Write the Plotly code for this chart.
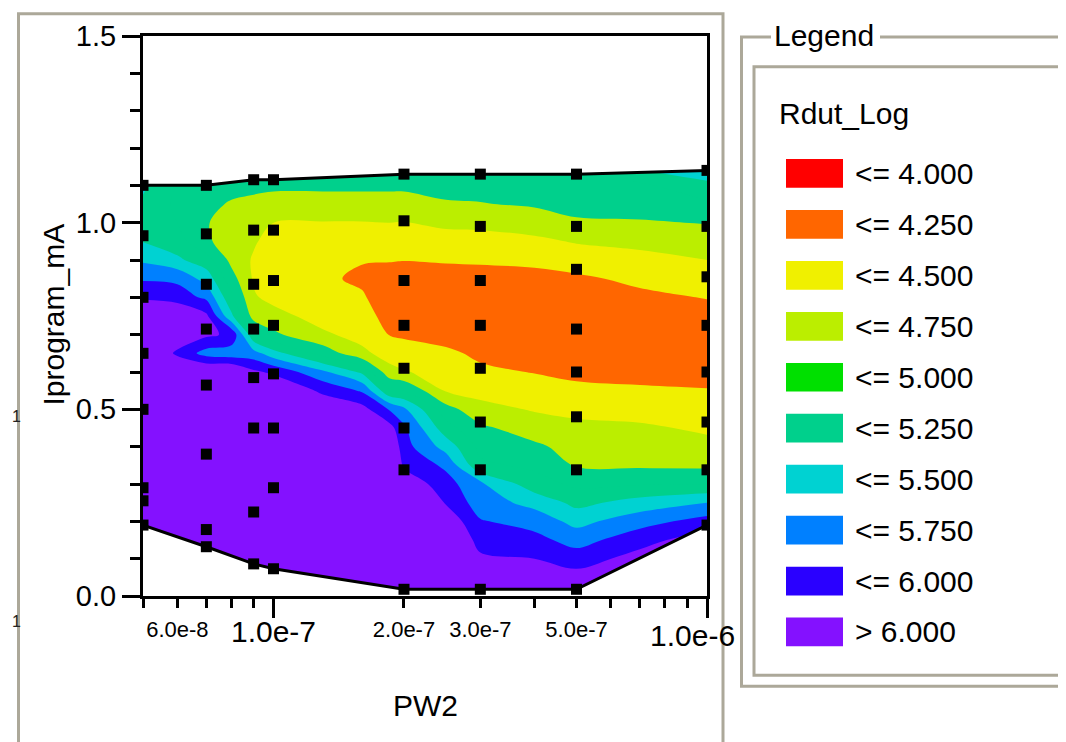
import plotly.graph_objects as go
import numpy as np

FONT = "Liberation Sans, Arial, sans-serif"

# ---------------- contour field (Rdut_Log) ----------------
pw2_grid = [5e-8, 6e-8, 7e-8, 8e-8, 9e-8, 1e-7, 1.3e-7, 1.6e-7, 1.85e-7, 2e-7,
            2.5e-7, 3e-7, 4e-7, 5e-7, 7e-7, 1e-6]
iprog_grid = [0.0, 0.05, 0.1, 0.15, 0.2, 0.25, 0.3, 0.35, 0.4, 0.45, 0.5, 0.55,
              0.6, 0.65, 0.7, 0.75, 0.8, 0.85, 0.9, 0.95, 1.0, 1.05, 1.1, 1.15]

# one list per PW2 column, values from Iprogram = 0.0 up to 1.15
col_5e8 = [6.5, 6.5, 6.5, 6.5, 6.5, 6.5, 6.5, 6.5, 6.5, 6.5, 6.5, 6.45, 6.4, 6.35, 6.3, 6.2, 5.97, 5.72, 5.46, 5.24, 5.15, 5.2, 5.3, 5.4]
col_6e8 = [6.5, 6.5, 6.5, 6.5, 6.5, 6.5, 6.5, 6.5, 6.5, 6.5, 6.5, 6.4, 6.3, 5.95, 6.2, 6.3, 5.87, 5.7, 5.3, 5.1, 5.0, 4.95, 5.0, 5.1]
col_7e8 = [6.5, 6.5, 6.5, 6.5, 6.5, 6.5, 6.5, 6.5, 6.5, 6.5, 6.5, 6.45, 6.3, 5.65, 6.05, 6.05, 5.7, 5.4, 5.1, 4.8, 4.77, 4.83, 4.9, 5.0]
col_8e8 = [6.5, 6.5, 6.5, 6.5, 6.5, 6.5, 6.5, 6.5, 6.5, 6.5, 6.5, 6.35, 6.3, 5.6, 5.95, 5.3, 5.05, 4.85, 4.68, 4.6, 4.62, 4.72, 4.85, 5.0]
col_9e8 = [6.5, 6.5, 6.5, 6.5, 6.5, 6.5, 6.5, 6.5, 6.5, 6.45, 6.4, 6.3, 6.05, 5.6, 5.05, 4.65, 4.53, 4.47, 4.47, 4.53, 4.58, 4.7, 4.8, 4.95]
col_1e7 = [6.5, 6.5, 6.5, 6.5, 6.5, 6.5, 6.5, 6.5, 6.5, 6.45, 6.4, 6.25, 5.95, 5.35, 4.8, 4.6, 4.42, 4.32, 4.32, 4.4, 4.5, 4.65, 4.8, 4.9]
col_13e8 = [6.5, 6.5, 6.5, 6.5, 6.5, 6.5, 6.5, 6.45, 6.4, 6.3, 6.2, 5.95, 5.55, 4.9, 4.55, 4.38, 4.3, 4.28, 4.3, 4.38, 4.49, 4.65, 4.8, 4.9]
col_16e8 = [6.5, 6.5, 6.5, 6.5, 6.5, 6.5, 6.5, 6.42, 6.35, 6.25, 6.1, 5.72, 5.2, 4.57, 4.4, 4.33, 4.27, 4.22, 4.26, 4.37, 4.49, 4.65, 4.8, 4.9]
col_185e8 = [6.5, 6.5, 6.5, 6.5, 6.5, 6.48, 6.45, 6.4, 6.3, 6.1, 5.73, 5.05, 4.6, 4.38, 4.245, 4.18, 4.15, 4.18, 4.26, 4.37, 4.5, 4.65, 4.8, 4.9]
col_2e7 = [6.5, 6.5, 6.5, 6.45, 6.4, 6.3, 6.2, 5.95, 5.85, 5.8, 5.55, 5.0, 4.52, 4.35, 4.22, 4.15, 4.1, 4.15, 4.255, 4.36, 4.49, 4.65, 4.8, 4.9]
col_25e8 = [6.5, 6.5, 6.45, 6.35, 6.2, 5.98, 5.85, 5.7, 5.4, 5.1, 4.85, 4.48, 4.4, 4.3, 4.15, 4.08, 4.09, 4.16, 4.27, 4.4, 4.55, 4.73, 4.82, 4.9]
col_3e7 = [6.3, 6.2, 6.05, 5.9, 5.77, 5.62, 5.55, 5.05, 4.93, 4.8, 4.58, 4.42, 4.3, 4.2, 4.1, 4.06, 4.08, 4.16, 4.28, 4.41, 4.56, 4.74, 4.83, 4.9]
col_4e7 = [6.25, 6.15, 6.0, 5.83, 5.65, 5.42, 5.1, 4.95, 4.8, 4.62, 4.48, 4.36, 4.24, 4.15, 4.07, 4.05, 4.1, 4.18, 4.3, 4.45, 4.62, 4.78, 4.85, 4.92]
col_5e7 = [6.2, 6.1, 5.88, 5.65, 5.42, 5.18, 4.95, 4.73, 4.65, 4.55, 4.45, 4.3, 4.2, 4.1, 4.05, 4.06, 4.12, 4.21, 4.36, 4.52, 4.73, 4.8, 4.88, 4.95]
col_7e7 = [6.3, 6.2, 6.1, 5.9, 5.65, 5.35, 4.98, 4.71, 4.62, 4.54, 4.4, 4.28, 4.18, 4.1, 4.08, 4.12, 4.2, 4.3, 4.43, 4.56, 4.73, 4.85, 4.95, 5.3]
col_1e6 = [6.5, 6.4, 6.3, 6.15, 5.85, 5.5, 5.0, 4.7, 4.57, 4.46, 4.36, 4.26, 4.18, 4.12, 4.1, 4.16, 4.26, 4.38, 4.5, 4.62, 4.76, 4.95, 5.2, 5.4]

columns = [col_5e8, col_6e8, col_7e8, col_8e8, col_9e8, col_1e7, col_13e8, col_16e8,
           col_185e8, col_2e7, col_25e8, col_3e7, col_4e7, col_5e7, col_7e7, col_1e6]
z_grid = np.array(columns).T.tolist()   # rows = Iprogram, cols = PW2

# ---------------- measured points (black squares) ----------------
pt_pw2 = [5e-8, 7e-8, 9e-8, 1e-7, 2e-7, 3e-7, 5e-7, 1e-6]
pt_i_5e8 = [1.10, 0.965, 0.80, 0.65, 0.50, 0.29, 0.255, 0.19]
pt_i_7e8 = [1.10, 0.97, 0.835, 0.715, 0.565, 0.38, 0.178, 0.132]
pt_i_9e8 = [1.115, 0.98, 0.835, 0.715, 0.585, 0.45, 0.225, 0.086]
pt_i_1e7 = [1.115, 0.98, 0.845, 0.725, 0.595, 0.45, 0.29, 0.073]
pt_i_2e7 = [1.13, 1.005, 0.845, 0.725, 0.61, 0.45, 0.338, 0.018]
pt_i_3e7 = [1.13, 0.99, 0.845, 0.725, 0.61, 0.466, 0.338, 0.018]
pt_i_5e7 = [1.13, 0.99, 0.875, 0.715, 0.60, 0.48, 0.338, 0.018]
pt_i_1e6 = [1.14, 0.99, 0.855, 0.725, 0.60, 0.466, 0.338, 0.19]
pt_cols = [pt_i_5e8, pt_i_7e8, pt_i_9e8, pt_i_1e7, pt_i_2e7, pt_i_3e7, pt_i_5e7, pt_i_1e6]

# ---------------- legend ----------------
legend_title = "Rdut_Log"
legend_labels = ["<= 4.000", "<= 4.250", "<= 4.500", "<= 4.750", "<= 5.000",
                 "<= 5.250", "<= 5.500", "<= 5.750", "<= 6.000", "> 6.000"]
legend_colors = ["#ff0000", "#ff6600", "#f0f000", "#bbee00", "#00e000",
                 "#00d08c", "#00d2d2", "#0080ff", "#2a00ff", "#8411ff"]
# colours as they appear in the plot (the 4.75-5.0 band shows as the 5.25 colour)
band_colors = ["#ff0000", "#ff6600", "#f0f000", "#bbee00", "#00d08c",
               "#00d08c", "#00d2d2", "#0080ff", "#2a00ff", "#8411ff"]

x_small_ticks = [6e-8, 2e-7, 3e-7, 5e-7]
x_small_text = ["6.0e-8", "2.0e-7", "3.0e-7", "5.0e-7"]
x_big_ticks = [1e-7, 1e-6]
x_big_text = ["1.0e-7", "1.0e-6"]
x_minor_ticks = [5e-8, 6e-8, 7e-8, 8e-8, 9e-8, 2e-7, 3e-7, 4e-7, 5e-7, 6e-7, 7e-7, 8e-7, 9e-7]
y_ticks = [0.0, 0.5, 1.0, 1.5]
y_text = ["0.0", "0.5", "1.0", "1.5"]

# ---------------- figure ----------------
# screen positions of the plot frame (the page adds an 8 px body margin)
OFF = 8
L, R, T, B = 143, 707, 31, 596
W, H = 1066 - OFF, 742 - OFF


def xp(px):
    return (px - L) / (R - L)


def yp(py):
    return (B - py) / (B - T)


fig = go.Figure()

cscale = [[k / 9, c] for k, c in enumerate(band_colors)]
fig.add_trace(go.Contour(
    x=pw2_grid, y=iprog_grid, z=z_grid,
    contours=dict(start=4.0, end=6.0, size=0.25, coloring="fill", showlines=False),
    autocontour=False, colorscale=cscale, showscale=False,
    line=dict(width=0), hoverinfo="skip"))

tops = [max(c) for c in pt_cols]
bots = [min(c) for c in pt_cols]
# white masks outside the data hull
fig.add_trace(go.Scatter(x=pt_pw2 + [1e-6, 5e-8], y=tops + [1.6, 1.6], mode="lines",
                         fill="toself", fillcolor="white", line=dict(width=0),
                         hoverinfo="skip"))
fig.add_trace(go.Scatter(x=pt_pw2 + [1e-6, 5e-8], y=bots + [-0.1, -0.1], mode="lines",
                         fill="toself", fillcolor="white", line=dict(width=0),
                         hoverinfo="skip"))
# hull outline
fig.add_trace(go.Scatter(x=pt_pw2, y=tops, mode="lines", line=dict(color="black", width=3),
                         hoverinfo="skip"))
fig.add_trace(go.Scatter(x=pt_pw2, y=bots, mode="lines", line=dict(color="black", width=3),
                         hoverinfo="skip"))

px_all, py_all = [], []
for xv, col in zip(pt_pw2, pt_cols):
    px_all += [xv] * len(col)
    py_all += col
fig.add_trace(go.Scatter(x=px_all, y=py_all, mode="markers",
                         marker=dict(symbol="square", size=11, color="black", line=dict(width=0)),
                         hoverinfo="skip"))
# dummy traces for the label-only axes
fig.add_trace(go.Scatter(x=[1e-7], y=[0.5], xaxis="x2", mode="markers",
                         marker=dict(opacity=0), hoverinfo="skip"))
fig.add_trace(go.Scatter(x=[1e-7], y=[0.5], xaxis="x3", mode="markers",
                         marker=dict(opacity=0), hoverinfo="skip"))

xr = [np.log10(5e-8), np.log10(1e-6)]
fig.update_layout(
    width=W, height=H, margin=dict(l=L - OFF, r=W - (R - OFF), t=T - OFF, b=H - (B - OFF)),
    paper_bgcolor="white", plot_bgcolor="white", showlegend=False,
    font=dict(family=FONT, color="black"),
    xaxis=dict(type="log", range=xr, tickmode="array", tickvals=x_big_ticks,
               showticklabels=False,
               ticks="outside", ticklen=19, tickwidth=3, tickcolor="black",
               showline=True, linewidth=3, linecolor="black", mirror=True,
               showgrid=False, zeroline=False,
               minor=dict(tickmode="array", tickvals=x_minor_ticks, ticks="outside",
                          ticklen=9, tickwidth=3, tickcolor="black", showgrid=False)),
    xaxis2=dict(type="log", range=xr, overlaying="x", anchor="y", side="bottom",
                tickmode="array", tickvals=x_small_ticks, ticktext=x_small_text,
                ticks="outside", ticklen=14, tickcolor="rgba(0,0,0,0)",
                showline=False, showgrid=False, zeroline=False,
                tickfont=dict(size=22, family=FONT, color="black")),
    xaxis3=dict(type="log", range=xr, overlaying="x", anchor="y", side="bottom",
                tickmode="array", tickvals=x_big_ticks[:1], ticktext=x_big_text[:1],
                ticks="outside", ticklen=9, tickcolor="rgba(0,0,0,0)",
                showline=False, showgrid=False, zeroline=False,
                tickfont=dict(size=30, family=FONT, color="black")),
    yaxis=dict(range=[0, 1.5], tickmode="array", tickvals=y_ticks, ticktext=y_text,
               ticks="outside", ticklen=18, tickwidth=3, tickcolor="black",
               showline=True, linewidth=3, linecolor="black", mirror=True,
               showgrid=False, zeroline=False,
               tickfont=dict(size=29, family=FONT, color="black"),
               minor=dict(dtick=0.1, tick0=0, ticks="outside", ticklen=10, tickwidth=3,
                          tickcolor="black", showgrid=False)),
)

GRAY = "#aca899"
shapes = [
    dict(type="rect", xref="paper", yref="paper", x0=xp(18.5), x1=xp(723), y0=yp(800), y1=yp(8.5),
         line=dict(color=GRAY, width=3)),
    dict(type="rect", xref="paper", yref="paper", x0=xp(741.5), x1=xp(1090), y0=yp(687), y1=yp(32),
         line=dict(color=GRAY, width=3)),
    dict(type="rect", xref="paper", yref="paper", x0=xp(754), x1=xp(1064.5), y0=yp(676), y1=yp(62),
         line=dict(color=GRAY, width=3)),
    dict(type="rect", xref="paper", yref="paper", x0=xp(771), x1=xp(880), y0=yp(40), y1=yp(24),
         fillcolor="white", line=dict(width=0)),
]
annotations = [
    dict(text="Legend", xref="paper", yref="paper", x=xp(772), y=yp(30), xanchor="left",
         yanchor="middle", showarrow=False, font=dict(size=30, family=FONT, color="black")),
    dict(text=legend_title, xref="paper", yref="paper", x=xp(777), y=yp(109), xanchor="left",
         yanchor="middle", showarrow=False, font=dict(size=30, family=FONT, color="black")),
    dict(text="Iprogram_mA", xref="paper", yref="paper", x=xp(54), y=yp(312), textangle=-90,
         xanchor="center", yanchor="middle", showarrow=False,
         font=dict(size=30, family=FONT, color="black")),
    dict(text="PW2", xref="paper", yref="paper", x=xp(425), y=yp(706), xanchor="center",
         yanchor="middle", showarrow=False, font=dict(size=30, family=FONT, color="black")),
    # last big tick label is pulled in to stay inside the frame, as in the reference
    dict(text=x_big_text[1], xref="paper", yref="paper", x=xp(692), y=yp(636), xanchor="center",
         yanchor="middle", showarrow=False, font=dict(size=30, family=FONT, color="black")),
    dict(text="1", xref="paper", yref="paper", x=xp(10), y=yp(415), xanchor="left",
         yanchor="middle", showarrow=False, font=dict(size=16, family=FONT, color="#222")),
    dict(text="1", xref="paper", yref="paper", x=xp(10), y=yp(622), xanchor="left",
         yanchor="middle", showarrow=False, font=dict(size=16, family=FONT, color="#222")),
]
for k, (lab, colr) in enumerate(zip(legend_labels, legend_colors)):
    top = 155.2 + 51.4 * k
    shapes.append(dict(type="rect", xref="paper", yref="paper", x0=xp(786), x1=xp(843),
                       y0=yp(top + 29), y1=yp(top), fillcolor=colr, line=dict(width=0)))
    annotations.append(dict(text=lab.replace("<", "&lt;").replace(">", "&gt;"),
                            xref="paper", yref="paper", x=xp(853), y=yp(top + 14.5),
                            xanchor="left", yanchor="middle", showarrow=False,
                            font=dict(size=30, family=FONT, color="black")))
fig.update_layout(shapes=shapes, annotations=annotations)

fig.write_html("out.html")
